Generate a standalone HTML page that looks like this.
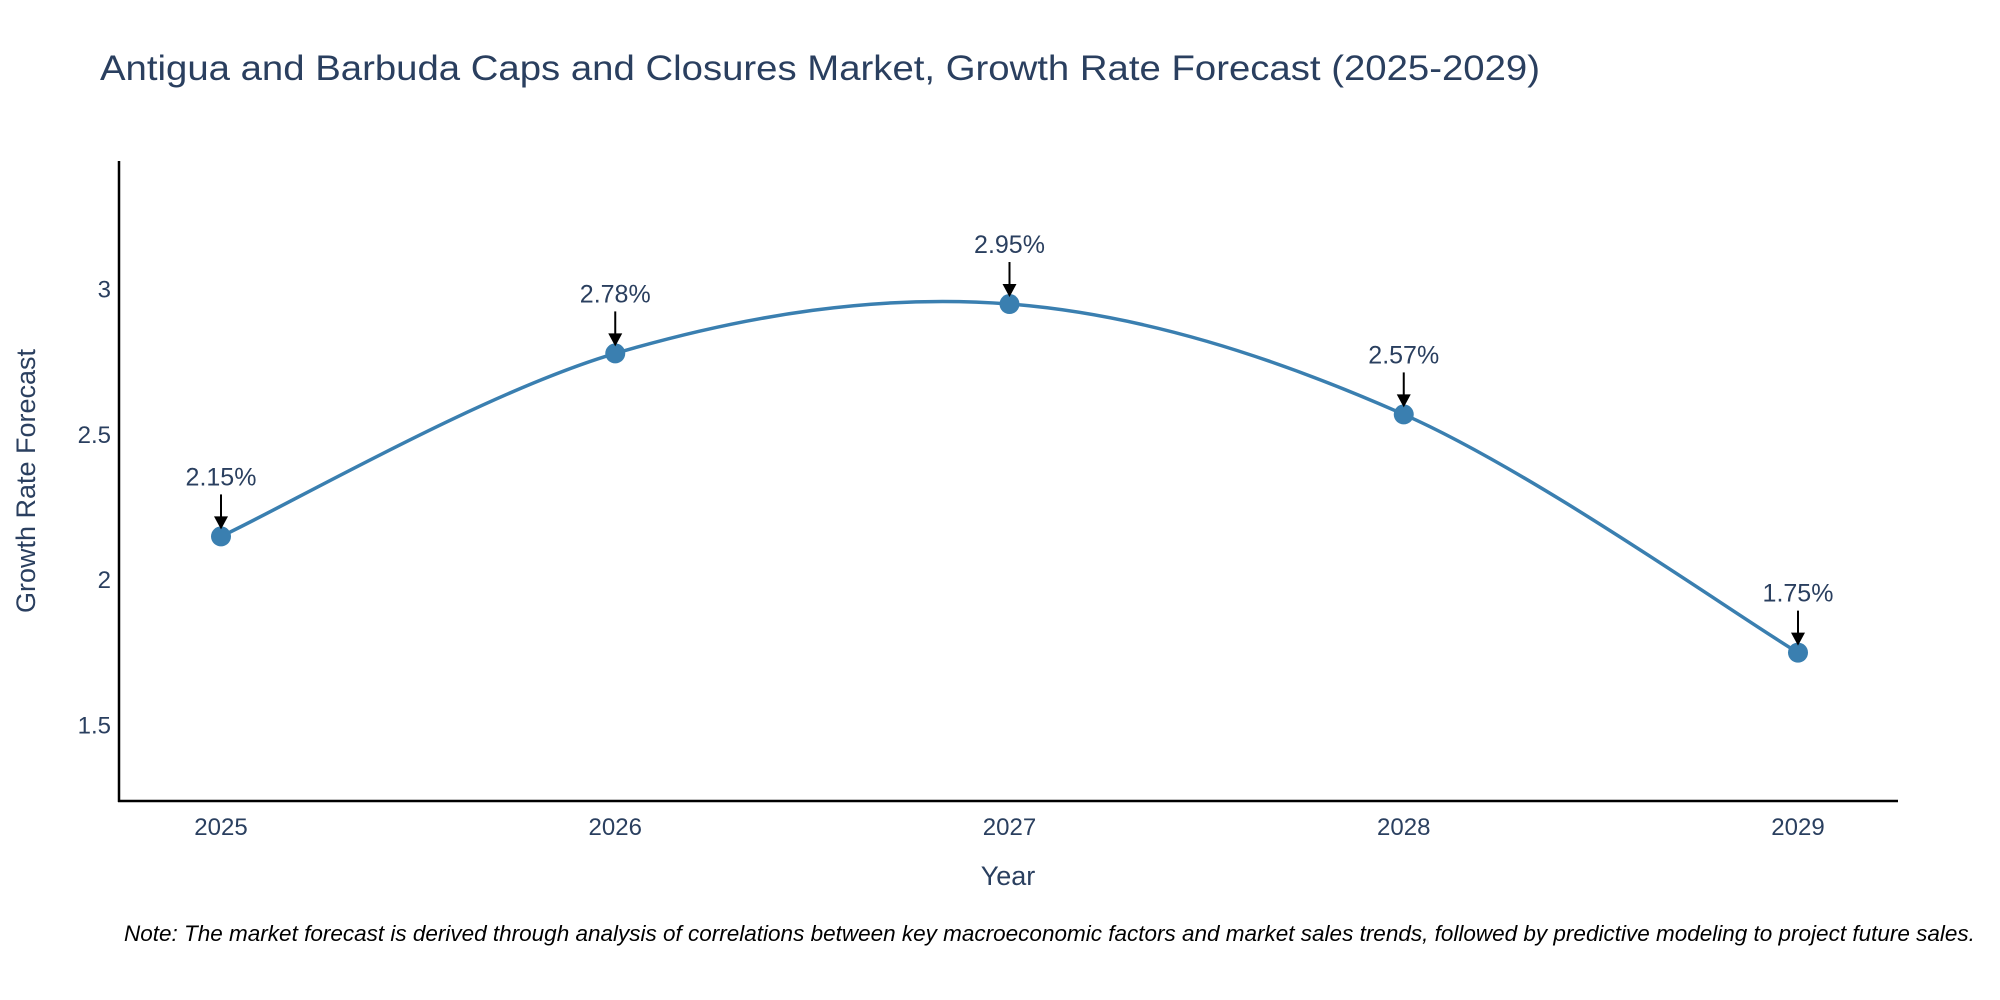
<!DOCTYPE html>
<html><head><meta charset="utf-8"><style>
html,body{margin:0;padding:0;background:#fff;}
svg{display:block;font-family:"Liberation Sans",sans-serif;}
</style></head><body>
<svg id="chart" width="2000" height="1000" viewBox="0 0 2000 1000">
<text x="100" y="80" font-size="35" fill="#2a3f5f" textLength="1440" lengthAdjust="spacingAndGlyphs">Antigua and Barbuda Caps and Closures Market, Growth Rate Forecast (2025-2029)</text>
<g id="yticks"></g>
<g id="xticks"></g>
<path id="line" fill="none" stroke="#3a7fb0" stroke-width="3.5"></path>
<g id="points"></g>
<g id="annots"></g>
<line x1="119" y1="161" x2="119" y2="802" stroke="#000" stroke-width="2.5"/>
<line x1="118" y1="801" x2="1898" y2="801" stroke="#000" stroke-width="2.5"/>
<text x="1008" y="885" font-size="27" fill="#2a3f5f" text-anchor="middle">Year</text>
<text transform="translate(35,481) rotate(-90)" font-size="27" fill="#2a3f5f" text-anchor="middle">Growth Rate Forecast</text>
<text x="124" y="941" font-size="22.5" font-style="italic" fill="#000">Note: The market forecast is derived through analysis of correlations between key macroeconomic factors and market sales trends, followed by predictive modeling to project future sales.</text>
</svg>
<script>
const years = [2025, 2026, 2027, 2028, 2029];
const values = [2.15, 2.78, 2.95, 2.57, 1.75];
const labels = ["2.15%", "2.78%", "2.95%", "2.57%", "1.75%"];
const yTicks = [1.5, 2, 2.5, 3];

const NS = "http://www.w3.org/2000/svg";
const xS = v => 221 + (v - 2025) * 394.25;
const yS = v => 580 - (v - 2) * 290.5;
function mk(tag, attrs, parent, text) {
  const e = document.createElementNS(NS, tag);
  for (const k in attrs) e.setAttribute(k, attrs[k]);
  if (text !== undefined) e.textContent = text;
  parent.appendChild(e);
  return e;
}
const yt = document.getElementById('yticks');
yTicks.forEach(t => {
  const e = mk('text', {x: 111, y: yS(t) + 8, 'font-size': 24, fill: '#2a3f5f', 'text-anchor': 'end'}, yt, String(t));
  
  
});
const xt = document.getElementById('xticks');
years.forEach(y => {
  const e = mk('text', {x: xS(y), y: 835, 'font-size': 24, fill: '#2a3f5f', 'text-anchor': 'middle'}, xt, String(y));
  
  
});
const P = years.map((y, i) => [xS(y), yS(values[i])]);
let d = `M${P[0][0]},${P[0][1]}`;
const s = 1 / 6;
for (let i = 0; i < P.length - 1; i++) {
  const p0 = P[Math.max(0, i - 1)], p1 = P[i], p2 = P[i + 1], p3 = P[Math.min(P.length - 1, i + 2)];
  const c1 = [p1[0] + (p2[0] - p0[0]) * s, p1[1] + (p2[1] - p0[1]) * s];
  const c2 = [p2[0] - (p3[0] - p1[0]) * s, p2[1] - (p3[1] - p1[1]) * s];
  d += ` C${c1[0]},${c1[1]} ${c2[0]},${c2[1]} ${p2[0]},${p2[1]}`;
}
document.getElementById('line').setAttribute('d', d);
const pts = document.getElementById('points');
const an = document.getElementById('annots');
P.forEach((p, i) => {
  const c = mk('circle', {cx: p[0], cy: p[1], r: 10, fill: '#3a7fb0'}, pts);
  
  
  const l = mk('line', {x1: p[0], y1: p[1] - 42, x2: p[0], y2: p[1] - 18, stroke: '#000', 'stroke-width': 2}, an);
  
  
  const h = mk('path', {d: `M${p[0]-7},${p[1]-20} L${p[0]+7},${p[1]-20} L${p[0]},${p[1]-7} Z`, fill: '#000'}, an);
  
  
  const t = mk('text', {x: p[0], y: p[1] - 51, 'font-size': 25, fill: '#2a3f5f', 'text-anchor': 'middle'}, an, labels[i]);
  
  
});
</script>
</body></html>
